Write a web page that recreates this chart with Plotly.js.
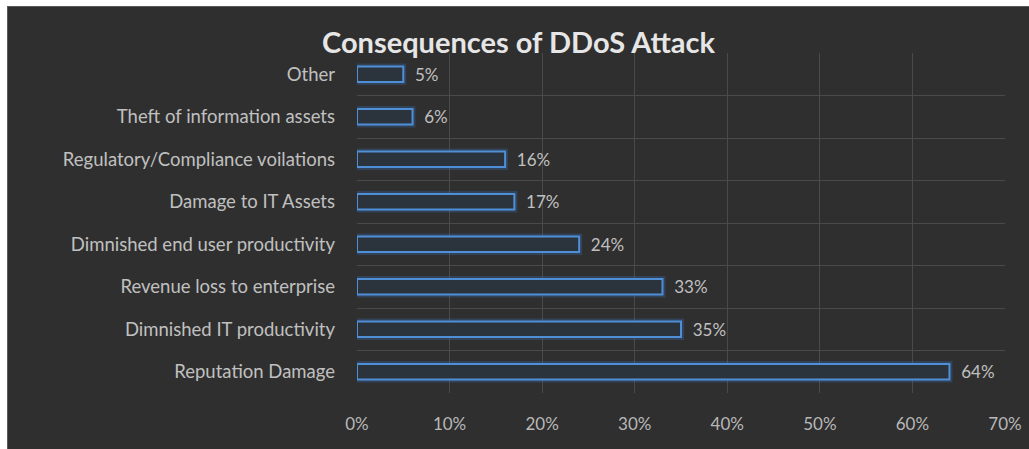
<!DOCTYPE html>
<html>
<head>
<meta charset="utf-8">
<script src="https://cdn.plot.ly/plotly-3.0.1.min.js"></script>
<style>
  html, body { margin: 0; padding: 0; background: #ffffff; width: 1029px; height: 449px; overflow: hidden; }
  #frame { position: absolute; left: 7px; top: 6px; width: 1022px; height: 443px; background: #5a5a5a; }
  #chart { position: absolute; left: 1px; top: 1px; width: 1021px; height: 442px; }
</style>
</head>
<body>
<div id="frame"><div id="chart"></div></div>
<script>
const categories = [
  "Reputation Damage",
  "Dimnished IT productivity",
  "Revenue loss to enterprise",
  "Dimnished end user productivity",
  "Damage to IT Assets",
  "Regulatory/Compliance voilations",
  "Theft of information assets",
  "Other"
];
const values = [64, 35, 33, 24, 17, 16, 6, 5];
const xTickValues = [0, 10, 20, 30, 40, 50, 60, 70];
const xTickLabels = ["0%", "10%", "20%", "30%", "40%", "50%", "60%", "70%"];
const chartTitle = "Consequences of DDoS Attack";

const FONT = "Lato, 'Open Sans', sans-serif";

const glow = {
  type: "bar",
  orientation: "h",
  x: values,
  y: categories,
  width: 0.36,
  marker: { color: "rgba(0,0,0,0)", line: { color: "rgba(60,120,200,0.28)", width: 6 } },
  hoverinfo: "skip",
  showlegend: false
};

const bars = {
  type: "bar",
  orientation: "h",
  x: values,
  y: categories,
  width: 0.36,
  marker: { color: "#2b333d", line: { color: "#4f8fd8", width: 2 } },
  text: values.map(v => v + "%"),
  texttemplate: "\u00a0\u00a0%{text}",
  textposition: "outside",
  constraintext: "none",
  cliponaxis: false,
  textfont: { family: FONT, size: 17, color: "#c0c0c0" },
  showlegend: false
};

const layout = {
  width: 1021,
  height: 442,
  paper_bgcolor: "#2f2f2f",
  plot_bgcolor: "#2f2f2f",
  barmode: "overlay",
  margin: { l: 349, r: 24, t: 46, b: 56 },
  title: {
    text: "<b>" + chartTitle + "</b>",
    font: { family: FONT, size: 29, color: "#e6e6e6" },
    x: 0.5, xanchor: "center", xref: "container",
    y: 1, yanchor: "top", yref: "container",
    pad: { t: 26 }
  },
  xaxis: {
    range: [0, 70],
    tickvals: xTickValues,
    ticktext: xTickLabels,
    showgrid: true,
    gridcolor: "#4a4a4a",
    gridwidth: 1,
    zeroline: false,
    showline: false,
    ticks: "",
    ticklabelstandoff: 19,
    tickfont: { family: FONT, size: 17, color: "#b8b8b8" },
    fixedrange: true
  },
  yaxis: {
    type: "category",
    categoryorder: "array",
    categoryarray: categories,
    range: [-0.5, 7.5],
    tickson: "boundaries",
    showgrid: true,
    gridcolor: "#4a4a4a",
    gridwidth: 1,
    zeroline: false,
    ticks: "",
    ticklabelstandoff: 21,
    tickfont: { family: FONT, size: 18.5, color: "#c0c0c0" },
    fixedrange: true
  },
  font: { family: FONT, color: "#c0c0c0" }
};

Plotly.newPlot("chart", [glow, bars], layout, { displayModeBar: false, staticPlot: true });
</script>
</body>
</html>
